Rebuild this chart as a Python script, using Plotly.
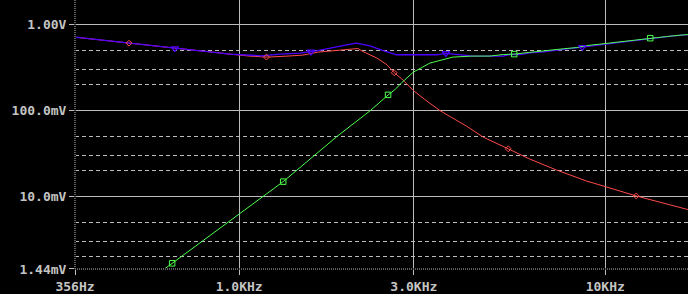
import numpy as np
import plotly.graph_objects as go

# ---- data (frequency in Hz, amplitude in V) ----
red_f = [356, 472, 647, 781, 943, 1070, 1198, 1350, 1493, 1641, 1849, 2032, 2110, 2178,
         2378, 2533, 2652, 2783, 2988, 3217, 3535, 4182, 4642, 5433, 6160, 7365, 8896,
         10000, 12150, 16690, 16830]
red_v = [0.720, 0.630, 0.537, 0.495, 0.457, 0.433, 0.422, 0.433, 0.445, 0.482, 0.509,
         0.531, 0.531, 0.490, 0.411, 0.344, 0.277, 0.2345, 0.1729, 0.1349, 0.1005,
         0.0661, 0.0493, 0.0361, 0.0279, 0.0204, 0.0152, 0.0131, 0.0102, 0.00714, 0.0071]

blue_f = [356, 472, 647, 781, 943, 1153, 1292, 1465, 1561, 1627, 1734, 1845, 1966, 2093,
          2276, 2474, 2635, 2692, 2988, 3462, 3671, 3885, 4137, 4350, 5254, 5491, 5848,
          6228, 6769, 7365, 7845, 8654, 9273, 10090, 11440, 13810, 15340, 16830]
blue_v = [0.720, 0.630, 0.537, 0.495, 0.457, 0.437, 0.457, 0.469, 0.482, 0.499, 0.527,
          0.560, 0.586, 0.613, 0.571, 0.503, 0.469, 0.449, 0.449, 0.449, 0.467, 0.457,
          0.443, 0.434, 0.434, 0.452, 0.452, 0.473, 0.486, 0.509, 0.527, 0.551, 0.571,
          0.597, 0.647, 0.707, 0.745, 0.772]

green_f = [570, 656, 1004, 1319, 1845, 2276, 2554, 2664, 2778, 2988, 3319, 3573, 3837,
           4323, 4842, 5265, 5641, 6160, 6495, 7063, 7679, 8355, 8896, 9672, 10520,
           11440, 12440, 13270, 14720, 16000, 16830]
green_v = [0.001078, 0.001675, 0.00625, 0.01497, 0.0498, 0.0997, 0.1533, 0.1762, 0.2124,
           0.281, 0.3594, 0.3926, 0.4219, 0.4335, 0.4335, 0.452, 0.457, 0.477, 0.490,
           0.503, 0.527, 0.545, 0.575, 0.597, 0.623, 0.657, 0.682, 0.701, 0.732, 0.759,
           0.772]

red_mk_f = [500, 1187, 2652, 5433, 12150]
red_mk_v = [0.613, 0.422, 0.277, 0.0361, 0.0102]
green_mk_f = [656, 1319, 2551, 5641, 13270]
green_mk_v = [0.001675, 0.01497, 0.1533, 0.457, 0.701]
blue_mk_f = [667, 1570, 3671, 8654]
blue_mk_v = [0.533, 0.486, 0.467, 0.551]

x_tickvals = [356, 1000, 3000, 10000]
x_ticktext = ["356Hz", "1.0KHz", "3.0KHz", "10KHz"]
y_tickvals = [0.00144, 0.01, 0.1, 1.0]
y_ticktext = ["1.44mV", "10.0mV", "100.0mV", "1.00V"]
y_minorvals = [0.002, 0.003, 0.005, 0.02, 0.03, 0.05, 0.2, 0.3, 0.5]

RED = "#ff4a4a"
BLUE = "#4f00ff"
GREEN = "#4dff4d"
GRID = "#bcbcbc"
TXT = "#c4c4c4"

fig = go.Figure()
fig.add_trace(go.Scatter(x=red_f, y=red_v, mode="lines", line=dict(color=RED, width=1)))
fig.add_trace(go.Scatter(x=blue_f, y=blue_v, mode="lines", line=dict(color=BLUE, width=1.3)))
fig.add_trace(go.Scatter(x=green_f, y=green_v, mode="lines", line=dict(color=GREEN, width=1)))
fig.add_trace(go.Scatter(x=red_mk_f, y=red_mk_v, mode="markers",
                         marker=dict(symbol="diamond-open", size=4.5, color=RED, line=dict(width=1))))
fig.add_trace(go.Scatter(x=green_mk_f, y=green_mk_v, mode="markers",
                         marker=dict(symbol="square-open", size=5.5, color=GREEN, line=dict(width=1))))
fig.add_trace(go.Scatter(x=blue_mk_f, y=blue_mk_v, mode="markers",
                         marker=dict(symbol="triangle-down-open", size=6.5, color=BLUE,
                                     line=dict(width=1.2))))

font = dict(family="DejaVu Sans Mono", size=13, color=TXT, weight="bold")

fig.update_layout(
    width=688, height=294,
    margin=dict(l=75.3, r=0, t=0, b=24.5, pad=0),
    paper_bgcolor="black", plot_bgcolor="black",
    showlegend=False,
)
fig.update_xaxes(
    type="log", range=[np.log10(356), np.log10(16830)],
    tickmode="array", tickvals=x_tickvals, ticktext=x_ticktext,
    showgrid=True, gridcolor=GRID, gridwidth=1,
    ticks="outside", ticklen=5, tickcolor=GRID, tickwidth=1,
    zeroline=False, showline=False, tickfont=font,
)
fig.update_yaxes(
    type="log", range=[np.log10(0.00144) - 0.0005, 0.29],
    tickmode="array", tickvals=y_tickvals, ticktext=y_ticktext,
    showgrid=True, gridcolor=GRID, gridwidth=1,
    ticks="outside", ticklen=5, tickcolor=GRID, tickwidth=1,
    zeroline=False, showline=False, tickfont=font,
    minor=dict(tickmode="array", tickvals=y_minorvals, showgrid=True,
               gridcolor=GRID, gridwidth=1, griddash="4px,3px", ticks=""),
)

# dotted frame on left and bottom edges (cover the solid edge grid first)
for (x0, y0, x1, y1) in [(0, 0, 1, 0), (0, 0, 0, 1)]:
    fig.add_shape(type="line", xref="paper", yref="paper", x0=x0, y0=y0, x1=x1, y1=y1,
                  line=dict(color="black", width=2), layer="above")
    fig.add_shape(type="line", xref="paper", yref="paper", x0=x0, y0=y0, x1=x1, y1=y1,
                  line=dict(color=GRID, width=1, dash="1px,1px"), layer="above")

fig.write_html("out.html")
